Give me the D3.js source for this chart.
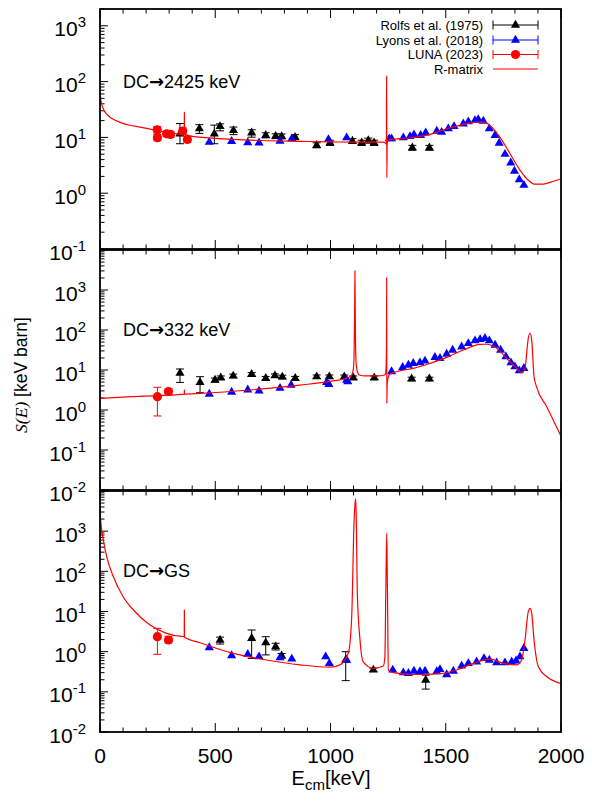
<!DOCTYPE html>
<html><head><meta charset="utf-8">
<script src="https://cdn.jsdelivr.net/npm/d3@7"></script>
<style>body{margin:0;background:#fff}svg{display:block}text{font-family:"Liberation Sans",Arial,sans-serif}</style>
</head><body><svg id="c" width="592" height="802"></svg>
<script>
// ---------------- data ----------------
const xTicks = [0, 500, 1000, 1500, 2000];
const panelNames = ["2425 keV", "332 keV", "GS"];
const legendNames = ["Rolfs et al. (1975)", "Lyons et al. (2018)", "LUNA (2023)", "R-matrix"];
const yTickExp1 = [-1, 0, 1, 2, 3];
const yTickExp2 = [-2, -1, 0, 1, 2, 3];
const yTickExp3 = [-2, -1, 0, 1, 2, 3];

// [E_cm keV, S, S_low, S_high]
const rolfs1 = [[347,11.6,7.7,17.7],[431,14.3,11.8,16.9],[496,11.6,7.7,16.6],[521,15.7,13.1,17.5],[579,13.3,11.2,15.3],[658,12.1,10.1,13.7],[719,10.9,9.8,12.1],[762,10.5,9.5,11.6],[788,10.4,9.4,11.5],[846,10.1,9.1,11.2],[940,7.2,6.5,8.0],[998,8.0,7.2,8.9],[1095,8.6,7.8,9.5],[1135,8.0,7.2,8.9],[1164,8.8,7.9,9.7],[1189,8.0,7.2,8.9],[1355,6.5,5.9,7.2],[1429,6.5,5.9,7.2]];
const lyons1 = [[474,8.2],[571,8.5],[641,8.1],[690,8.0],[781,8.6],[832,9.5],[991,9.2],[1070,9.9],[1255,9.5],[1265,9.5],[1316,9.9],[1345,10.4],[1362,11.2],[1391,10.9],[1413,12.1],[1461,13.0],[1482,12.4],[1511,14.3],[1536,15.7],[1576,17.5],[1598,19.1],[1627,20.1],[1641,21.0],[1663,19.6],[1689,14.3],[1714,10.9],[1732,7.9],[1757,5.0],[1782,3.5],[1798,2.5],[1819,1.76],[1839,1.39]];
const luna1 = [[248,13.7,12.0,15.6],[249,9.9,8.7,11.2],[289,11.6,10.4,12.8],[306,11.3,10.1,12.5],[359,13.0,11.4,14.8],[379,9.2,8.1,10.4]];
const rmat1 = [[0,69],[3,50],[7,40],[15,32],[29,26],[50,22],[87,18.6],[130,16.5],[174,15.3],[230,13.7],[289,12.4],[340,11.5],[365.5,11.2],[366,28],[366.5,11.2],[434,10.1],[500,9.6],[578,9.2],[700,8.8],[868,8.5],[1000,8.3],[1100,8.25],[1229,8.2],[1238,7.9],[1242.5,7.6],[1243.5,128],[1244.5,1.9],[1246,8.0],[1252,9.0],[1258,9.1],[1300,9.5],[1359,9.9],[1432,11.3],[1504,14.3],[1576,17.1],[1634,18.8],[1663,18.8],[1692,16.4],[1735,10.1],[1779,5.1],[1822,2.6],[1858,1.71],[1887,1.45],[1923,1.45],[1967,1.64],[2000,1.8]];

const rolfs2 = [[347,8.3,4.9,10.6],[434,4.9,2.7,6.8],[499,5.6,5.0,6.3],[524,6.4,5.8,7.1],[578,7.1,6.4,7.9],[658,7.8,7.0,8.6],[719,6.2,5.6,6.9],[759,7.2,6.5,8.0],[791,6.7,6.0,7.4],[847,6.2,5.6,6.9],[940,6.8,6.1,7.5],[995,6.8,6.1,7.5],[1060,6.8,6.1,7.5],[1099,6.4,5.8,7.1],[1190,6.4,5.8,7.1],[1352,6.0,5.4,6.6],[1429,6.0,5.4,6.6]];
const lyons2 = [[474,2.5],[571,2.8],[641,3.2],[690,3.0],[781,3.5],[829,4.2],[983,4.9],[993,4.4],[1070,5.6],[1075,5.1],[1265,9.1],[1313,11.7],[1338,13.3],[1359,14.7],[1388,15.2],[1410,16.8],[1453,20.7],[1475,19.6],[1504,25],[1530,31.6],[1569,38],[1598,46],[1627,54],[1649,58],[1670,62],[1689,54],[1714,42],[1738,31.6],[1761,21.5],[1783,15.2],[1800,12.1],[1819,9.6],[1839,11.0]];
const luna2 = [[249,2.15,0.71,3.7],[297,2.9,2.5,3.3]];
const rmat2 = [[0,1.96],[100,2.1],[249,2.28],[365.5,2.5],[366,3.2],[366.5,2.5],[434,2.6],[651,3.16],[868,4.2],[1000,5.2],[1070,6.2],[1090,7.2],[1098,9.5],[1102,20],[1104.5,200],[1106,3000],[1107.5,200],[1110,20],[1115,10],[1125,7.5],[1150,7.1],[1200,7.1],[1235,7.5],[1240,9],[1243,40],[1243.7,2100],[1244.3,1.47],[1246,4.5],[1250,6.5],[1258,7.9],[1300,9.5],[1359,11],[1432,14.7],[1504,20.7],[1576,31.6],[1649,43.8],[1677,44],[1721,34.8],[1764,19.6],[1808,11],[1829,8.6],[1844,11],[1852,30],[1858,62],[1866,83],[1873,56],[1883,6.8],[1894,3.8],[1938,1.21],[2000,0.22]];

const rolfs3 = [[521,1.95,1.55,2.3],[658,2.15,0.68,3.46],[719,1.67,0.83,2.36],[762,1.33,1.10,1.62],[788,0.79,0.70,0.90],[1066,0.62,0.19,1.0],[1186,0.35,0.32,0.39],[1413,0.197,0.117,0.26]];
const lyons3 = [[474,1.26],[571,0.80],[641,0.86],[690,0.75],[781,0.71],[832,0.66],[979,0.75],[995,0.51],[1070,0.62],[1270,0.35],[1316,0.30],[1338,0.29],[1362,0.33],[1388,0.32],[1410,0.33],[1461,0.32],[1475,0.36],[1504,0.27],[1533,0.33],[1569,0.44],[1598,0.51],[1634,0.56],[1666,0.68],[1689,0.62],[1721,0.53],[1757,0.53],[1786,0.56],[1805,0.59],[1822,0.75],[1839,1.21]];
const luna3 = [[249,2.36,0.86,3.8],[297,1.95,1.65,2.4]];
const rmat3 = [[0,4000],[2,2300],[7,1100],[14.5,600],[29,231],[58,73],[101,23],[145,10.9],[217,4.6],[289,2.86],[361,2.36],[365.5,2.35],[366,10.9],[366.5,2.33],[434,1.67],[578,0.91],[723,0.62],[868,0.47],[998,0.41],[1041,0.47],[1077,0.91],[1092,7.4],[1102,1600],[1106,4500],[1109,6500],[1112,2000],[1116,34],[1128,1.95],[1142,0.56],[1186,0.385],[1229,0.44],[1236,0.75],[1240,34],[1244,900],[1247,34],[1251,0.35],[1272,0.30],[1359,0.27],[1475,0.285],[1547,0.35],[1620,0.51],[1692,0.65],[1750,0.51],[1808,0.47],[1829,0.62],[1844,1.95],[1858,9.9],[1866,12],[1873,9.0],[1883,1.95],[1902,0.42],[1938,0.24],[2000,0.16]];

// ---------------- layout ----------------
const svg = d3.select("#c");
const X0 = 100, X1 = 561;
const x = d3.scaleLinear().domain([0, 2000]).range([X0, X1]);
const panels = [
  {dom:[0.1,2000], rng:[249,9], exps:yTickExp1, rolfs:rolfs1, lyons:lyons1, luna:luna1, rmat:rmat1, name:panelNames[0], labY:88},
  {dom:[0.01,1e4], rng:[490,250], exps:yTickExp2, rolfs:rolfs2, lyons:lyons2, luna:luna2, rmat:rmat2, name:panelNames[1], labY:336},
  {dom:[0.01,1e4], rng:[732,491], exps:yTickExp3, rolfs:rolfs3, lyons:lyons3, luna:luna3, rmat:rmat3, name:panelNames[2], labY:577}
];
const tri = d3.symbol().type(d3.symbolTriangle).size(36);

panels.forEach((p, i) => {
  const y = d3.scaleLog().domain(p.dom).range(p.rng);
  const top = p.rng[1], bot = p.rng[0];
  const g = svg.append("g");
  const cid = "clip" + i;
  svg.append("clipPath").attr("id", cid).append("rect").attr("x", X0).attr("y", top).attr("width", X1 - X0).attr("height", bot - top);

  // x ticks (top and bottom, inward)
  const minorX = d3.range(0, 2001, 100);
  minorX.forEach(v => {
    const len = (v % 500 === 0) ? 9 : 4.5;
    g.append("line").attr("x1", x(v)).attr("x2", x(v)).attr("y1", bot).attr("y2", bot - len).attr("stroke", "#000").attr("stroke-width", 1);
    g.append("line").attr("x1", x(v)).attr("x2", x(v)).attr("y1", top).attr("y2", top + len).attr("stroke", "#000").attr("stroke-width", 1);
  });
  // y ticks on left
  const lo = Math.floor(Math.log10(p.dom[0])), hi = Math.ceil(Math.log10(p.dom[1]));
  for (let e = lo; e <= hi; e++) {
    for (let m = 1; m <= 9; m++) {
      const v = m * Math.pow(10, e);
      if (v < p.dom[0] * 0.999 || v > p.dom[1] * 1.001) continue;
      const len = m === 1 ? 8 : 4.5;
      g.append("line").attr("x1", X0).attr("x2", X0 + len).attr("y1", y(v)).attr("y2", y(v)).attr("stroke", "#000").attr("stroke-width", 1);
    }
  }
  // y tick labels
  p.exps.forEach(e => {
    const t = g.append("text").attr("x", 86).attr("y", y(Math.pow(10, e)) + 10.5).attr("text-anchor", "end").attr("font-size", 21);
    t.append("tspan").text("10");
    t.append("tspan").attr("dy", -9).attr("font-size", 15).text(String(e));
  });

  const pg = g.append("g").attr("clip-path", `url(#${cid})`);
  // Rolfs
  p.rolfs.forEach(d => {
    const cx = x(d[0]);
    pg.append("line").attr("x1", cx).attr("x2", cx).attr("y1", y(d[2])).attr("y2", y(d[3])).attr("stroke", "#000").attr("stroke-width", 1);
    [d[2], d[3]].forEach(v => pg.append("line").attr("x1", cx - 4).attr("x2", cx + 4).attr("y1", y(v)).attr("y2", y(v)).attr("stroke", "#000").attr("stroke-width", 1));
    pg.append("path").attr("d", tri).attr("transform", `translate(${cx},${y(d[1])})`).attr("fill", "#000");
  });
  // Lyons
  p.lyons.forEach(d => {
    const cx = x(d[0]);
    pg.append("path").attr("d", tri).attr("transform", `translate(${cx},${y(d[1])})`).attr("fill", "#0000ff");
  });
  // LUNA
  p.luna.forEach(d => {
    const cx = x(d[0]);
    pg.append("line").attr("x1", cx).attr("x2", cx).attr("y1", y(d[2])).attr("y2", y(d[3])).attr("stroke", "#ff0000").attr("stroke-width", 1);
    [d[2], d[3]].forEach(v => pg.append("line").attr("x1", cx - 4).attr("x2", cx + 4).attr("y1", y(v)).attr("y2", y(v)).attr("stroke", "#ff0000").attr("stroke-width", 1));
    pg.append("circle").attr("cx", cx).attr("cy", y(d[1])).attr("r", 4.6).attr("fill", "#ff0000");
  });
  // R-matrix
  const line = d3.line().x(d => x(d[0])).y(d => y(d[1])).curve(d3.curveMonotoneX);
  pg.append("path").attr("d", line(p.rmat)).attr("fill", "none").attr("stroke", "#ff0000").attr("stroke-width", 1.2);

  // frame
  g.append("rect").attr("x", X0).attr("y", top).attr("width", X1 - X0).attr("height", bot - top).attr("fill", "none").attr("stroke", "#000").attr("stroke-width", 1.8);

  // panel label
  const lt = g.append("text").attr("x", 123).attr("y", p.labY).attr("font-size", 18);
  lt.append("tspan").text("DC");
  lt.append("tspan").attr("font-family", "DejaVu Sans").attr("font-weight", "bold").text("\u2192");
  lt.append("tspan").text(p.name);
});

// x tick labels
xTicks.forEach(v => svg.append("text").attr("x", x(v)).attr("y", 763).attr("text-anchor", "middle").attr("font-size", 21).text(v));
// x title
const xt = svg.append("text").attr("x", 331).attr("y", 785).attr("text-anchor", "middle").attr("font-size", 20);
xt.append("tspan").text("E");
xt.append("tspan").attr("dy", 5).attr("font-size", 15).text("cm");
xt.append("tspan").attr("dy", -5).text("[keV]");
// y title
const yt = svg.append("text").attr("transform", "translate(27,375) rotate(-90)").attr("text-anchor", "middle").attr("font-size", 17.5);
yt.append("tspan").attr("font-family", "Liberation Serif").attr("font-style", "italic").text("S(E)");
yt.append("tspan").text(" [keV barn]");

// legend
const leg = svg.append("g");
const legY = [25, 40, 54.5, 69];
const legCol = ["#000", "#0000ff", "#ff0000", "#ff0000"];
legendNames.forEach((n, i) => {
  leg.append("text").attr("x", 483).attr("y", legY[i] + 4.5).attr("text-anchor", "end").attr("font-size", 13).text(n);
  leg.append("line").attr("x1", 493).attr("x2", 538).attr("y1", legY[i]).attr("y2", legY[i]).attr("stroke", legCol[i]).attr("stroke-width", 1);
  if (i < 3) {
    [493, 538].forEach(xx => leg.append("line").attr("x1", xx).attr("x2", xx).attr("y1", legY[i] - 4.5).attr("y2", legY[i] + 4.5).attr("stroke", legCol[i]).attr("stroke-width", 1));
    if (i < 2) leg.append("path").attr("d", tri).attr("transform", `translate(515.5,${legY[i]})`).attr("fill", legCol[i]);
    else leg.append("circle").attr("cx", 515.5).attr("cy", legY[i]).attr("r", 4.6).attr("fill", legCol[i]);
  }
});
</script></body></html>
